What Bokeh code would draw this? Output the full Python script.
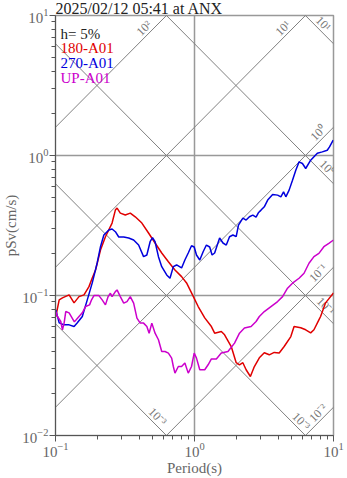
import numpy as np
from bokeh.plotting import figure
from bokeh.models import Label, LogTickFormatter, FixedTicker, Range1d, ColumnDataSource, Title
from bokeh.core.properties import value
from bokeh.embed import file_html
from bokeh.resources import INLINE

FONT = "Liberation Serif"

title_text = "2025/02/12 05:41 at ANX"
damping_text = "h= 5%"
series_names = ["180-A01", "270-A01", "UP-A01"]
series_colors = ["#e00000", "#0000dd", "#cc00cc"]

# 180-A01
ns_period = [0.1005, 0.1063, 0.1122, 0.1253, 0.136, 0.1476, 0.1603, 0.1741, 0.1838, 0.1941,
             0.2107, 0.2287, 0.2553, 0.2696, 0.2773, 0.2927, 0.3178, 0.3451, 0.3746, 0.4182,
             0.467, 0.5204, 0.5811, 0.6488, 0.7234, 0.8075, 0.8769, 0.9519, 1.063, 1.185,
             1.323, 1.396, 1.559, 1.646, 1.838, 1.995, 2.107, 2.228, 2.352, 2.524,
             2.696, 2.927, 3.178, 3.451, 3.746, 4.067, 4.416, 4.932, 5.204, 5.811,
             6.31, 6.85, 7.234, 7.852, 8.075, 8.769, 10.0]
ns_psv = [0.0708, 0.0931, 0.0962, 0.101, 0.0886, 0.0982, 0.101, 0.1157, 0.1335, 0.1522,
          0.2113, 0.263, 0.3292, 0.4074, 0.421, 0.3879, 0.3754, 0.3879, 0.365, 0.3292,
          0.2794, 0.2371, 0.2012, 0.1744, 0.1522, 0.1364, 0.123, 0.1043, 0.0834, 0.0692,
          0.06, 0.0538, 0.0553, 0.0524, 0.0432, 0.0331, 0.032, 0.0331, 0.0295, 0.0264,
          0.0311, 0.0359, 0.039, 0.0377, 0.0392, 0.0388, 0.0432, 0.0509, 0.06, 0.0588,
          0.0569, 0.0541, 0.0569, 0.067, 0.0708, 0.0886, 0.1043]

# 270-A01
ew_period = [0.1005, 0.1063, 0.1154, 0.1253, 0.136, 0.1436, 0.1559, 0.1693, 0.1838, 0.1995,
             0.2107, 0.2228, 0.2419, 0.2553, 0.2696, 0.2851, 0.3096, 0.3361, 0.3649, 0.3962,
             0.4301, 0.4541, 0.4794, 0.4988, 0.5204, 0.5504, 0.5811, 0.631, 0.6663, 0.7043,
             0.7436, 0.8075, 0.8527, 0.9016, 0.9519, 0.9951, 1.0335, 1.091, 1.154, 1.218,
             1.286, 1.338, 1.396, 1.516, 1.603, 1.693, 1.787, 1.89, 1.995, 2.072,
             2.228, 2.352, 2.483, 2.627, 2.773, 2.88, 3.011, 3.178, 3.361, 3.649,
             3.962, 4.182, 4.372, 4.541, 4.794, 5.07, 5.354, 5.651, 5.977, 6.31,
             6.85, 7.65, 8.305, 9.016, 9.364, 9.95]
ew_psv = [0.079, 0.0638, 0.0617, 0.0617, 0.06, 0.0638, 0.0708, 0.0931, 0.123, 0.1708,
          0.2232, 0.2704, 0.2935, 0.2984, 0.2855, 0.2617, 0.2617, 0.2574, 0.2491, 0.2294,
          0.1894, 0.1947, 0.2422, 0.2586, 0.2422, 0.1894, 0.1607, 0.1402, 0.1328, 0.1607,
          0.1652, 0.1573, 0.1794, 0.2012, 0.2268, 0.222, 0.1947, 0.1794, 0.2055, 0.2294,
          0.222, 0.1947, 0.2012, 0.2574, 0.2371, 0.2294, 0.263, 0.2704, 0.263, 0.3185,
          0.3573, 0.3458, 0.365, 0.3754, 0.3632, 0.3898, 0.4074, 0.4302, 0.4801, 0.5272,
          0.5212, 0.5069, 0.5503, 0.5069, 0.5658, 0.6668, 0.7856, 0.9003, 0.877, 0.8076,
          0.9258, 1.038, 1.061, 1.091, 1.152, 1.286]

# UP-A01
ud_period = [0.1005, 0.1033, 0.1091, 0.1122, 0.1154, 0.1185, 0.1253, 0.1367, 0.1476, 0.1559,
             0.1646, 0.1758, 0.1817, 0.189, 0.2052, 0.2167, 0.2287, 0.2391, 0.2483, 0.2553,
             0.2696, 0.2773, 0.2927, 0.3096, 0.3268, 0.3451, 0.3649, 0.3854, 0.4067, 0.4301,
             0.4541, 0.4716, 0.4932, 0.5204, 0.5504, 0.5811, 0.6138, 0.6488, 0.685, 0.7043,
             0.7234, 0.765, 0.8075, 0.8527, 0.9016, 0.9519, 0.9951, 1.0335, 1.091, 1.185,
             1.253, 1.323, 1.436, 1.559, 1.741, 1.941, 2.107, 2.287, 2.553, 2.773,
             2.927, 3.178, 3.548, 3.962, 4.301, 4.67, 5.07, 5.651, 6.138, 6.663,
             7.234, 7.852, 8.527, 9.257, 10.0]
ud_psv = [0.0768, 0.0708, 0.0652, 0.0569, 0.0638, 0.0768, 0.0752, 0.0648, 0.0708, 0.0752,
          0.0834, 0.0857, 0.0931, 0.0998, 0.0998, 0.0931, 0.0857, 0.0982, 0.1038, 0.0982,
          0.1066, 0.1096, 0.0982, 0.0881, 0.0905, 0.0982, 0.0881, 0.0689, 0.0635, 0.0635,
          0.06, 0.0538, 0.0635, 0.0538, 0.0483, 0.0398, 0.0398, 0.0388, 0.0357, 0.0311,
          0.0279, 0.0311, 0.0311, 0.0329, 0.0279, 0.0311, 0.0388, 0.0357, 0.0295, 0.0295,
          0.032, 0.0352, 0.0352, 0.0388, 0.0398, 0.0457, 0.0538, 0.0585, 0.06, 0.0652,
          0.0708, 0.0768, 0.0834, 0.0905, 0.0982, 0.1127, 0.1224, 0.1328, 0.1442, 0.1699,
          0.1894, 0.2001, 0.2232, 0.2359, 0.2491]

# tripartite grid levels
sa_levels = [0.01, 0.1, 1, 10, 100]          # pseudo acceleration (cm/s^2)
sa_labels = ["10⁻²", "10⁻¹", "10⁰", "10¹", "10²"]
sa_label_period = [8.4, 8.4, 8.4, 4.7, 0.47]
sd_levels = [0.001, 0.01, 0.1, 1, 10]        # displacement (cm)
sd_labels = ["10⁻³", "10⁻³", "10⁻¹", "10⁰", "10¹"]
sd_label_period = [0.5, 5.4, 8.1, 8.3, 7.8]

x_decades = [-1, 0, 1]
y_decades = [-2, -1, 0, 1]

xr = (10.0 ** x_decades[0], 10.0 ** x_decades[-1])
yr = (10.0 ** y_decades[0], 10.0 ** y_decades[-1])

p = figure(width=347, height=478, x_axis_type="log", y_axis_type="log",
           x_range=Range1d(*xr), y_range=Range1d(*yr),
           output_backend="svg", toolbar_location=None, tools="",
           min_border_left=53, min_border_right=14, min_border_top=15, min_border_bottom=42)
p.title = Title(text=title_text, align="left", offset=0, standoff=-4,
                text_font=FONT, text_font_size="16px", text_font_style="normal",
                text_color="#222222", vertical_align="middle", text_baseline="middle")
p.background_fill_color = "white"
p.border_fill_color = "white"
p.outline_line_color = "#999999"
p.outline_line_width = 1.5

def ticks(decs):
    major = [10.0 ** d for d in decs]
    minor = [m * 10.0 ** d for d in decs[:-1] for m in range(2, 10)]
    return FixedTicker(ticks=major, minor_ticks=minor)

xt = ticks(x_decades)
yt = ticks(y_decades)
p.xaxis.ticker = xt
p.yaxis.ticker = yt
p.xgrid.ticker = xt
p.ygrid.ticker = yt
for ax in (p.xaxis, p.yaxis):
    ax.formatter = LogTickFormatter()
    ax.axis_line_color = "#555555"
    ax.major_tick_line_color = "#555555"
    ax.minor_tick_line_color = "#555555"
    ax.major_tick_out = 6
    ax.major_tick_in = 0
    ax.minor_tick_out = 4
    ax.minor_tick_in = 0
    ax.major_label_text_font = FONT
    ax.major_label_text_font_size = "15px"
    ax.major_label_text_color = "#666666"
    ax.major_label_standoff = 1
    ax.axis_label_text_font = FONT
    ax.axis_label_text_font_size = "15px"
    ax.axis_label_text_font_style = "normal"
    ax.axis_label_text_color = "#666666"
    ax.axis_label_standoff = 0
p.xaxis.axis_label = "Period(s)"
p.yaxis.axis_label = "pSv(cm/s)"

for g in (p.xgrid, p.ygrid):
    g.grid_line_color = "#999999"
    g.grid_line_width = 1.5

# diagonal lines
tt = np.array([0.05, 20.0])
for lv in sa_levels:
    p.line(tt, lv * tt / (2 * np.pi), line_color="#808080", line_width=1)
for lv in sd_levels:
    p.line(tt, 2 * np.pi * lv / tt, line_color="#808080", line_width=1)

sa_t = np.array(sa_label_period)
sd_t = np.array(sd_label_period)
lab_src = ColumnDataSource(dict(
    x=list(sa_t) + list(sd_t),
    y=list(np.array(sa_levels) * sa_t / (2 * np.pi)) + list(2 * np.pi * np.array(sd_levels) / sd_t),
    text=sa_labels + sd_labels,
    angle=[np.pi / 4] * len(sa_levels) + [-np.pi / 4] * len(sd_levels),
))
p.text(x="x", y="y", text="text", angle="angle", source=lab_src,
       text_font=value(FONT), text_font_size="12px", text_color="#777777",
       text_align="center", text_baseline="bottom")

# spectra
for per, psv, col in zip([ns_period, ew_period, ud_period], [ns_psv, ew_psv, ud_psv], series_colors):
    p.line(per, psv, line_color=col, line_width=1.5)

# legend text
legend_texts = [damping_text] + series_names
legend_colors = ["#222222"] + series_colors
for i, (t, c) in enumerate(zip(legend_texts, legend_colors)):
    p.add_layout(Label(x=xr[0], y=yr[1], x_offset=5, y_offset=-(18 + 14.7 * i), text=t,
                       text_font=FONT, text_font_size="15px", text_color=c,
                       text_baseline="alphabetic", text_align="left"))

open("out.html", "w").write(file_html(p, INLINE))
